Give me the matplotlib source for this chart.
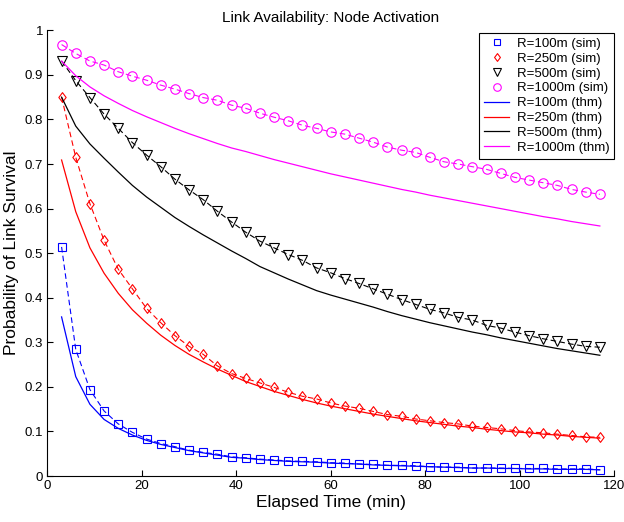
"""Link availability vs elapsed time: simulated and theoretical survival
probability for four transmission ranges."""
import matplotlib
matplotlib.use("Agg")
import matplotlib.pyplot as plt
import numpy as np
from matplotlib.path import Path

plt.rcParams["font.family"] = ["Liberation Sans", "DejaVu Sans"]

# elapsed time (min), sampled every 3 min
t_min = np.arange(3, 120, 3)

ranges = ["100m", "250m", "500m", "1000m"]
colors = ["#0000ff", "#ff0000", "#000000", "#ff00ff"]

sim_100 = [0.514, 0.284, 0.194, 0.146, 0.117, 0.098, 0.083, 0.073, 0.066, 0.058,
           0.053, 0.049, 0.043, 0.041, 0.038, 0.036, 0.034, 0.033, 0.032, 0.030,
           0.029, 0.027, 0.026, 0.024, 0.024, 0.023, 0.021, 0.020, 0.020, 0.018,
           0.018, 0.018, 0.017, 0.017, 0.017, 0.016, 0.016, 0.016, 0.014]
sim_250 = [0.850, 0.715, 0.611, 0.529, 0.464, 0.420, 0.376, 0.344, 0.315, 0.291,
           0.273, 0.247, 0.230, 0.219, 0.209, 0.199, 0.188, 0.179, 0.173, 0.164,
           0.157, 0.152, 0.145, 0.138, 0.134, 0.128, 0.124, 0.120, 0.117, 0.112,
           0.109, 0.106, 0.102, 0.099, 0.097, 0.094, 0.091, 0.088, 0.087]
sim_500 = [0.931, 0.887, 0.849, 0.812, 0.780, 0.748, 0.720, 0.694, 0.666, 0.642,
           0.620, 0.594, 0.570, 0.547, 0.527, 0.512, 0.497, 0.484, 0.467, 0.456,
           0.443, 0.432, 0.420, 0.408, 0.396, 0.385, 0.374, 0.366, 0.356, 0.350,
           0.338, 0.332, 0.323, 0.315, 0.308, 0.302, 0.296, 0.291, 0.289]
sim_1000 = [0.968, 0.948, 0.931, 0.922, 0.907, 0.897, 0.888, 0.877, 0.868, 0.858,
            0.849, 0.843, 0.832, 0.825, 0.814, 0.805, 0.797, 0.787, 0.780, 0.772,
            0.767, 0.758, 0.749, 0.738, 0.731, 0.726, 0.715, 0.705, 0.700, 0.694,
            0.688, 0.679, 0.670, 0.664, 0.658, 0.652, 0.643, 0.637, 0.632]

thm_100 = [0.357, 0.223, 0.161, 0.127, 0.107, 0.092, 0.080, 0.071, 0.064, 0.057,
           0.052, 0.047, 0.042, 0.040, 0.037, 0.035, 0.033, 0.032, 0.031, 0.029,
           0.028, 0.027, 0.025, 0.024, 0.023, 0.022, 0.021, 0.020, 0.019, 0.018,
           0.018, 0.017, 0.017, 0.016, 0.016, 0.015, 0.015, 0.015, 0.014]
thm_250 = [0.709, 0.593, 0.512, 0.455, 0.410, 0.373, 0.343, 0.316, 0.293, 0.273,
           0.256, 0.240, 0.226, 0.212, 0.201, 0.190, 0.181, 0.172, 0.164, 0.157,
           0.151, 0.145, 0.139, 0.134, 0.129, 0.124, 0.120, 0.116, 0.112, 0.109,
           0.105, 0.102, 0.099, 0.097, 0.094, 0.092, 0.089, 0.087, 0.085]
thm_500 = [0.850, 0.785, 0.745, 0.713, 0.682, 0.652, 0.626, 0.603, 0.580, 0.560,
           0.541, 0.523, 0.505, 0.488, 0.470, 0.456, 0.442, 0.429, 0.416, 0.406,
           0.397, 0.388, 0.379, 0.369, 0.360, 0.352, 0.344, 0.337, 0.330, 0.323,
           0.317, 0.310, 0.304, 0.298, 0.292, 0.286, 0.281, 0.276, 0.271]
thm_1000 = [0.931, 0.898, 0.873, 0.853, 0.836, 0.820, 0.806, 0.793, 0.780, 0.768,
            0.757, 0.746, 0.736, 0.728, 0.719, 0.710, 0.702, 0.694, 0.686, 0.678,
            0.671, 0.664, 0.657, 0.650, 0.643, 0.637, 0.630, 0.624, 0.618, 0.612,
            0.606, 0.600, 0.594, 0.588, 0.582, 0.577, 0.571, 0.566, 0.561]

sim = [sim_100, sim_250, sim_500, sim_1000]
thm = [thm_100, thm_250, thm_500, thm_1000]

# matlab-style diamond: a bit taller than wide
diamond = Path([(0, 1), (0.75, 0), (0, -1), (-0.75, 0), (0, 1)],
               [Path.MOVETO, Path.LINETO, Path.LINETO, Path.LINETO, Path.CLOSEPOLY])
markers = ["s", diamond, "v", "o"]
marker_sizes = [5.5, 7, 7, 6.8]

fig = plt.figure(figsize=(6.24, 5.22), dpi=100)
ax = fig.add_axes([0.076, 0.088, 0.908, 0.854])

sim_handles, thm_handles = [], []
for r, c, m, ms, ys in zip(ranges, colors, markers, marker_sizes, sim):
    ax.plot(t_min, ys, color=c, linestyle=(0, (5, 3)), linewidth=0.8)
    h, = ax.plot(t_min, ys, linestyle="none", marker=m, markersize=ms,
                 markerfacecolor="none", markeredgecolor=c, markeredgewidth=0.8,
                 label=f"R={r} (sim)")
    sim_handles.append(h)
for r, c, ys in zip(ranges, colors, thm):
    h, = ax.plot(t_min, ys, color=c, linewidth=0.9, label=f"R={r} (thm)")
    thm_handles.append(h)

ax.set_xlim(0, 120)
ax.set_ylim(0, 1)
ax.set_xticks(np.arange(0, 121, 20))
ax.set_yticks(np.arange(0, 1.01, 0.1))
ax.set_yticklabels(["0", "0.1", "0.2", "0.3", "0.4", "0.5", "0.6", "0.7", "0.8", "0.9", "1"])
ax.tick_params(direction="in", length=4, width=0.8, labelsize=9.5, pad=3)
for s in ["top", "right"]:
    ax.spines[s].set_visible(False)
for s in ["left", "bottom"]:
    ax.spines[s].set_linewidth(0.8)

ax.set_xlabel("Elapsed Time (min)", fontsize=12.5, labelpad=2)
ax.set_ylabel("Probability of Link Survival", fontsize=12.5, labelpad=4)
ax.set_title("Link Availability: Node Activation", fontsize=11, pad=6)

leg = ax.legend(handles=sim_handles + thm_handles, loc="upper right",
                bbox_to_anchor=(1.005, 1.0), fontsize=9.5, frameon=True,
                fancybox=False, edgecolor="black", framealpha=1,
                handlelength=1.9, handletextpad=0.6, labelspacing=0.2,
                borderpad=0.35, borderaxespad=0.2, markerscale=0.8)
leg.get_frame().set_linewidth(0.8)

fig.savefig("out.png", dpi=100)
